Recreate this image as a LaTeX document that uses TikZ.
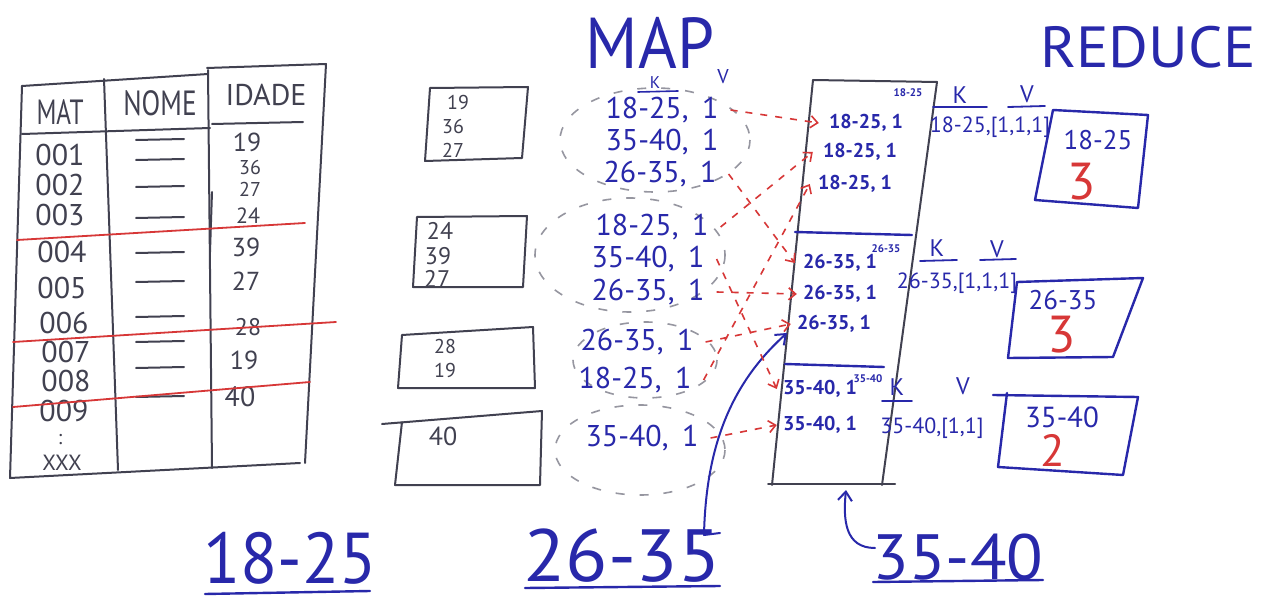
\documentclass[tikz,border=0pt]{standalone}
\usepackage{fontspec}
\usepackage{graphicx}
\setmainfont{PT Sans}
\usetikzlibrary{arrows.meta}
\definecolor{inkgray}{RGB}{65,65,80}
\definecolor{inkblue}{RGB}{40,40,170}
\definecolor{inkred}{RGB}{215,55,55}
\definecolor{dashgray}{RGB}{150,150,160}
\newcommand{\fsz}[1]{\fontsize{#1}{#1}\selectfont}
\newcommand{\hw}[3]{\scalebox{#1}[1]{\fsz{#2}#3}}
\newcommand{\kv}[2]{#1,\hspace{0.45em}#2}
\begin{document}
\begin{tikzpicture}[x=1pt,y=-1pt,
 tl/.style={draw=inkgray,line width=2pt,line cap=round,line join=round},
 bl/.style={draw=inkblue,line width=2.4pt,line cap=round,line join=round},
 rl/.style={draw=inkred,line width=1.8pt,line cap=round},
 tt/.style={inner sep=0pt,text=inkgray},
 bt/.style={inner sep=0pt,text=inkblue},
 rt/.style={inner sep=0pt,text=inkred},
 mo/.style={bt,font=\fsz{30}},
 re/.style={bt,font=\fsz{20}\bfseries},
 tag/.style={bt,font=\fsz{11}\bfseries},
 kvl/.style={bt,font=\fsz{22}},
 grp/.style={draw=dashgray,line width=1.6pt,dash pattern=on 9pt off 15pt},
 flow/.style={draw=inkred,line width=1.6pt,dash pattern=on 7pt off 8pt,-{Straight Barb[length=7pt,width=12pt]}},
 barb/.style={-{Straight Barb[length=9pt,width=14pt]}},
]
\useasboundingbox[fill=white] (0,0) rectangle (1280,604);

% ---------------- table ----------------
\draw[tl] (22,86) -- (208,74);
\draw[tl] (207,68) -- (326,64) -- (305,463);
\draw[tl] (22,86) -- (10,478) -- (300,463);
\draw[tl] (104,79) -- (118,470);
\draw[tl] (208,70) -- (212,468);
\draw[tl] (22,134) -- (210,128);
\draw[tl] (212,124) -- (303,122);
\draw[tl] (212,192) -- (210,252);

\node[tt] (hmat) at (60,112) {\hw{0.72}{35}{MAT}};
\node[tt] (hnome) at (160,103) {\hw{0.78}{35}{NOME}};
\node[tt] (hidade) at (266,95) {\fsz{30}IDADE};

\node[tt] (r1) at (60,155) {\fsz{30}001};
\node[tt] (r2) at (60,185) {\fsz{30}002};
\node[tt] (r3) at (60,215) {\fsz{30}003};
\node[tt] (r4) at (62,252) {\fsz{30}004};
\node[tt] (r5) at (62,288) {\fsz{30}005};
\node[tt] (r6) at (64,323) {\fsz{30}006};
\node[tt] (r7) at (66,352) {\fsz{30}007};
\node[tt] (r8) at (66,381) {\fsz{30}008};
\node[tt] (r9) at (64,411) {\fsz{30}009};
\node[tt] (rd) at (60,440) {\fsz{20}:};
\node[tt] (rx) at (62,463) {\fsz{22}XXX};

\foreach \y in {140,160,187,218,253,282,317,342,368,397}
  \draw[tl] (136,\y) -- (184,\y-1);

\node[tt] (a1) at (247,142) {\fsz{26}19};
\node[tt] (a2) at (250,168) {\fsz{20}36};
\node[tt] (a3) at (250,189) {\fsz{20}27};
\node[tt] (a4) at (248,216) {\fsz{22}24};
\node[tt] (a5) at (246,247) {\fsz{26}39};
\node[tt] (a6) at (246,281) {\fsz{26}27};
\node[tt] (a7) at (248,327) {\fsz{24}28};
\node[tt] (a8) at (244,360) {\fsz{26}19};
\node[tt] (a9) at (240,397) {\fsz{28}40};

\draw[rl] (17,240) -- (305,223);
\draw[rl] (13,342) -- (336,322);
\draw[rl] (13,407) -- (310,382);

% ---------------- map input boxes ----------------
\draw[tl] (430,88) -- (528,87) -- (522,158) -- (425,161) -- cycle;
\node[tt] (b11) at (458,103) {\fsz{20}19};
\node[tt] (b12) at (453,127) {\fsz{20}36};
\node[tt] (b13) at (453,150) {\fsz{20}27};
\draw[tl] (417,217) -- (527,216) -- (523,287) -- (413,287) -- cycle;
\node[tt] (b21) at (440,231) {\fsz{24}24};
\node[tt] (b22) at (438,256) {\fsz{24}39};
\node[tt] (b23) at (437,279) {\fsz{24}27};
\draw[tl] (402,335) -- (533,327) -- (535,388) -- (398,388) -- cycle;
\node[tt] (b31) at (445,346) {\fsz{20}28};
\node[tt] (b32) at (445,370) {\fsz{20}19};
\draw[tl] (382,424) -- (542,411) -- (540,485) -- (395,485) -- (402,422);
\node[tt] (b41) at (443,436) {\fsz{26}40};

% ---------------- map ----------------
\node[bt] (map) at (650,43) {\hw{0.92}{72}{MAP}};
\node[bt] (mk) at (655,83) {\fsz{17}K};
\draw[bl,line width=1.6pt] (638,92) -- (678,91);
\node[bt] (mv) at (723,77) {\fsz{20}V};

\draw[grp] (655,140) ellipse [x radius=95, y radius=52];
\draw[grp] (630,255) ellipse [x radius=95, y radius=57];
\draw[grp] (645,360) ellipse [x radius=72, y radius=38];
\draw[grp] (640,450) ellipse [x radius=85, y radius=45];

\node[mo] (m11) at (662,110) {\kv{18-25}{1}};
\node[mo] (m12) at (662,142) {\kv{35-40}{1}};
\node[mo] (m13) at (660,174) {\kv{26-35}{1}};
\node[mo] (m21) at (652,227) {\kv{18-25}{1}};
\node[mo] (m22) at (648,259) {\kv{35-40}{1}};
\node[mo] (m23) at (648,292) {\kv{26-35}{1}};
\node[mo] (m31) at (637,342) {\kv{26-35}{1}};
\node[mo] (m32) at (635,380) {\kv{18-25}{1}};
\node[mo] (m41) at (642,438) {\kv{35-40}{1}};

% ---------------- reduce column ----------------
\draw[tl] (813,80) -- (937,82) -- (882,485);
\draw[tl] (813,80) -- (772,485);
\draw[tl] (768,484) -- (895,484);
\draw[bl] (795,232) -- (912,235);
\draw[bl] (785,364) -- (884,367);

\node[tag] (t1) at (908,93) {18-25};
\node[re] (s11) at (866,123) {18-25, 1};
\node[re] (s12) at (860,152) {18-25, 1};
\node[re] (s13) at (855,184) {18-25, 1};
\node[tag] (t2) at (886,249) {26-35};
\node[re] (s21) at (840,263) {26-35, 1};
\node[re] (s22) at (840,294) {26-35, 1};
\node[re] (s23) at (834,324) {26-35, 1};
\node[tag] (t3) at (868,379) {35-40};
\node[re] (s31) at (820,389) {35-40, 1};
\node[re] (s32) at (820,425) {35-40, 1};

% K V labels
\node[bt] (k1) at (960,95) {\fsz{24}K};
\draw[bl,line width=1.8pt] (933,107) -- (987,107);
\node[bt] (v1) at (1027,94) {\fsz{24}V};
\draw[bl,line width=1.8pt] (1008,107) -- (1045,106);
\node[kvl] (kv1) at (990,127) {18-25,[1,1,1]};

\node[bt] (k2) at (937,248) {\fsz{24}K};
\draw[bl,line width=1.8pt] (920,261) -- (957,260);
\node[bt] (v2) at (997,249) {\fsz{24}V};
\draw[bl,line width=1.8pt] (980,260) -- (1016,259);
\node[kvl] (kv2) at (957,283) {26-35,[1,1,1]};

\node[bt] (k3) at (897,387) {\fsz{24}K};
\draw[bl,line width=1.8pt] (882,401) -- (912,401);
\node[bt] (v3) at (963,386) {\fsz{24}V};
\node[kvl] (kv3) at (932,428) {35-40,[1,1]};

% result boxes
\draw[bl] (1053,110) -- (1148,115) -- (1138,208) -- (1035,200) -- cycle;
\node[bt] (o1a) at (1098,140) {\fsz{27}18-25};
\node[rt] (o1b) at (1082,182) {\fsz{52}3};
\draw[bl] (1017,282) -- (1143,278) -- (1113,357) -- (1008,358) -- cycle;
\node[bt] (o2a) at (1063,300) {\fsz{27}26-35};
\node[rt] (o2b) at (1062,335) {\fsz{52}3};
\draw[bl] (993,395) -- (1138,397) -- (1123,475) -- (998,467) -- (1007,393);
\node[bt] (o3a) at (1062,417) {\fsz{29}35-40};
\node[rt] (o3b) at (1053,450) {\fsz{45}2};

\node[bt] (redu) at (1148,47) {\hw{1.05}{58}{REDUCE}};

% bottom labels
\node[bt] (l1) at (290,558) {\hw{0.95}{72}{18-25}};
\draw[bl] (205,594) -- (370,591);
\node[bt] (l2) at (622,556) {\hw{1.05}{74}{26-35}};
\draw[bl] (525,588) -- (720,586);
\node[bt] (l3) at (958,557) {\hw{1.05}{64}{35-40}};
\draw[bl] (873,582) -- (1043,580);

% blue arrows
\coordinate (a1s) at (704,535);
\draw[bl,line width=2pt] (a1s) -- (720,533);
\draw[bl,line width=2pt,barb] (a1s) .. controls (706,440) and (735,380) .. (787,333);
\coordinate (a2s) at (875,548);
\coordinate (a2e) at (846,490);
\draw[bl,line width=2pt,barb] (a2s) .. controls (845,548) and (843,520) .. (a2e);

% red flows
\draw[flow] ([xshift=12pt]m11.east) -- ([xshift=-10pt]s11.west);
\draw[flow] ([xshift=12pt]m13.east) -- ([xshift=-8pt]s21.west);
\draw[flow] ([xshift=12pt]m21.east) -- ([xshift=-10pt]s12.west);
\draw[flow] ([xshift=12pt]m22.east) -- ([xshift=-6pt]s31.west);
\draw[flow] ([xshift=12pt]m23.east) -- ([xshift=-6pt]s22.west);
\draw[flow] ([xshift=12pt]m31.east) -- ([xshift=-6pt]s23.west);
\draw[flow] ([xshift=12pt]m32.east) -- ([xshift=-8pt]s13.west);
\draw[flow] ([xshift=12pt]m41.east) -- ([xshift=-6pt]s32.west);
\end{tikzpicture}
\end{document}
